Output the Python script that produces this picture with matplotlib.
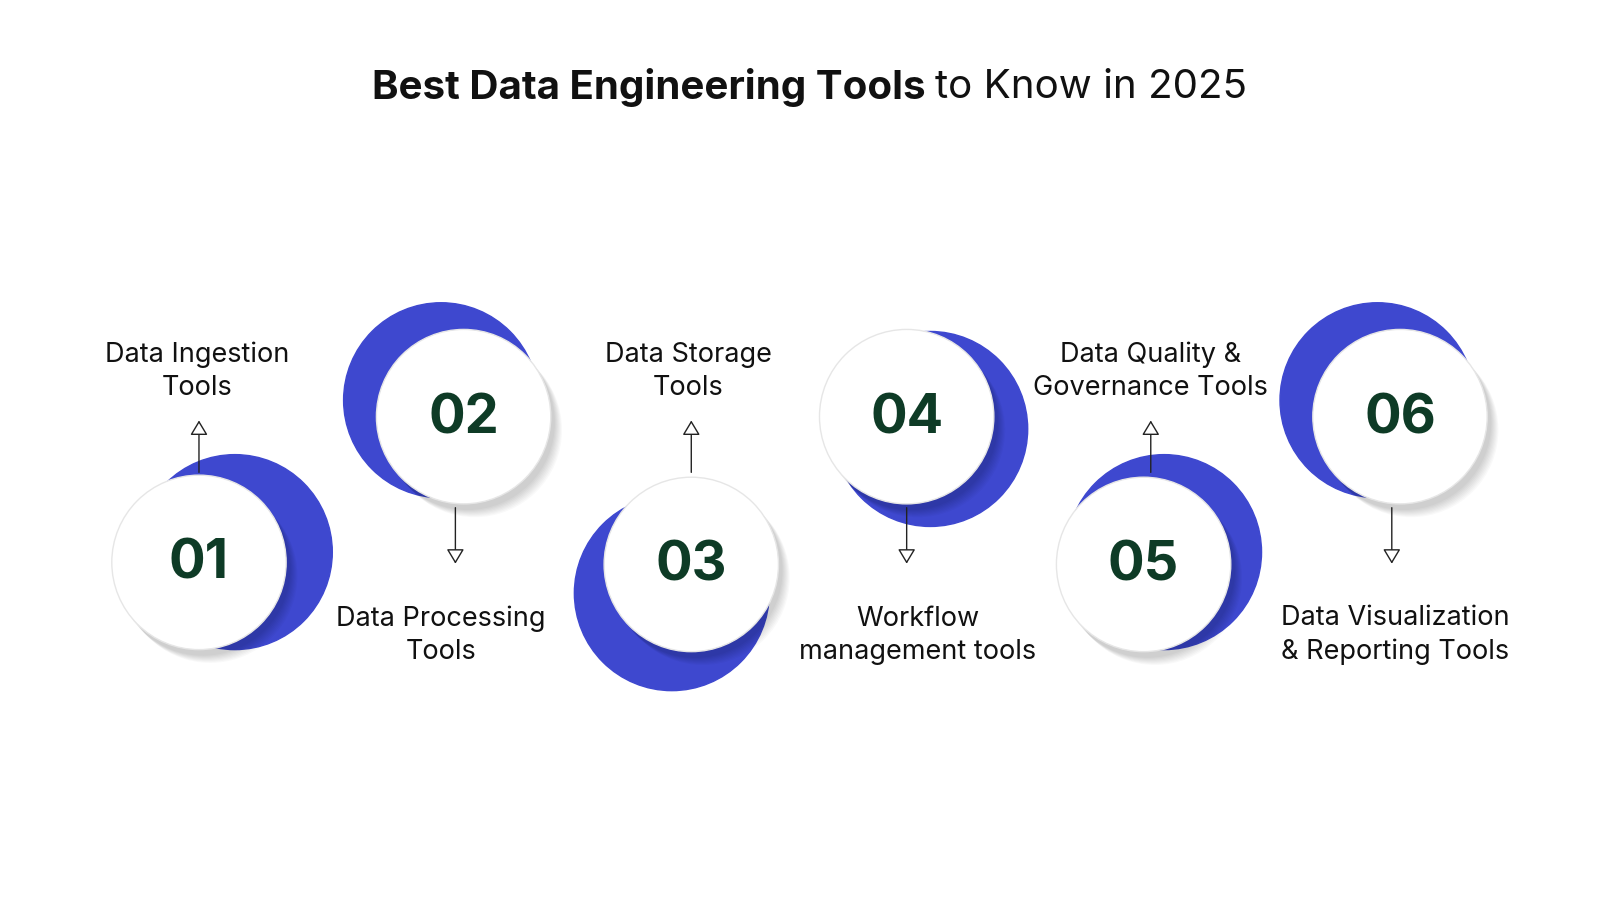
import matplotlib
matplotlib.use("Agg")
import matplotlib.pyplot as plt
from matplotlib.patches import Circle

numbers = ["01", "02", "03", "04", "05", "06"]
labels = ["Data Ingestion\nTools", "Data Processing\nTools", "Data Storage\nTools",
          "Workflow\nmanagement tools", "Data Quality &\nGovernance Tools",
          "Data Visualization\n& Reporting Tools"]

# layout
cx = [194, 452, 674, 884, 1115, 1365]
cy = [548, 406, 550, 406, 550, 406]
blue_off = [(35, -10), (-22, -16), (-19, 28), (23, 12), (20, -12), (-22, -16)]
label_x = [192, 430, 671, 895, 1122, 1360]
arrow_x = [194, 444, 674, 884, 1122, 1357]
R = 85
BLUE = "#3E48CF"
GREEN = "#0E3B26"

fig = plt.figure(figsize=(16, 9), dpi=100)
ax = fig.add_axes([0, 0, 1, 1])
ax.set_xlim(0, 1560); ax.set_ylim(877, 0); ax.axis("off")

ax.text(902, 85, "Best Data Engineering Tools", ha="right", va="center",
        fontsize=29, fontweight="bold", family="Inter", color="#111111")
ax.text(912, 85, "to Know in 2025", ha="left", va="center",
        fontsize=29, family="Inter", color="#111111")

for i, (n, lab) in enumerate(zip(numbers, labels)):
    x, y = cx[i], cy[i]
    dx, dy = blue_off[i]
    ax.add_patch(Circle((x + dx, y + dy), 95, color=BLUE, zorder=1))
    for k in range(8):
        ax.add_patch(Circle((x + 4 + k, y + 6 + k), R, color="black",
                            alpha=0.025, lw=0, zorder=2))
    ax.add_patch(Circle((x, y), R, facecolor="white", edgecolor="#e6e6e6",
                        lw=1, zorder=3))
    ax.text(x, y + 2, n, ha="center", va="center", fontsize=39,
            fontweight="bold", family="Inter", color=GREEN, zorder=4)
    ap = dict(arrowstyle="-|>,head_length=0.5,head_width=0.3", color="#222222",
              lw=1, fc="white", mutation_scale=18)
    if cy[i] > 500:
        ax.annotate("", xy=(arrow_x[i], 407), xytext=(arrow_x[i], 463),
                    arrowprops=ap, zorder=5)
        ax.text(label_x[i], 362, lab, ha="center", va="center", fontsize=19.5,
                family="Inter", color="#111111", linespacing=1.35)
    else:
        ax.annotate("", xy=(arrow_x[i], 552), xytext=(arrow_x[i], 492),
                    arrowprops=ap, zorder=5)
        ax.text(label_x[i], 619, lab, ha="center", va="center", fontsize=19.5,
                family="Inter", color="#111111", linespacing=1.35)

fig.savefig("out.png", dpi=100, facecolor="white")
